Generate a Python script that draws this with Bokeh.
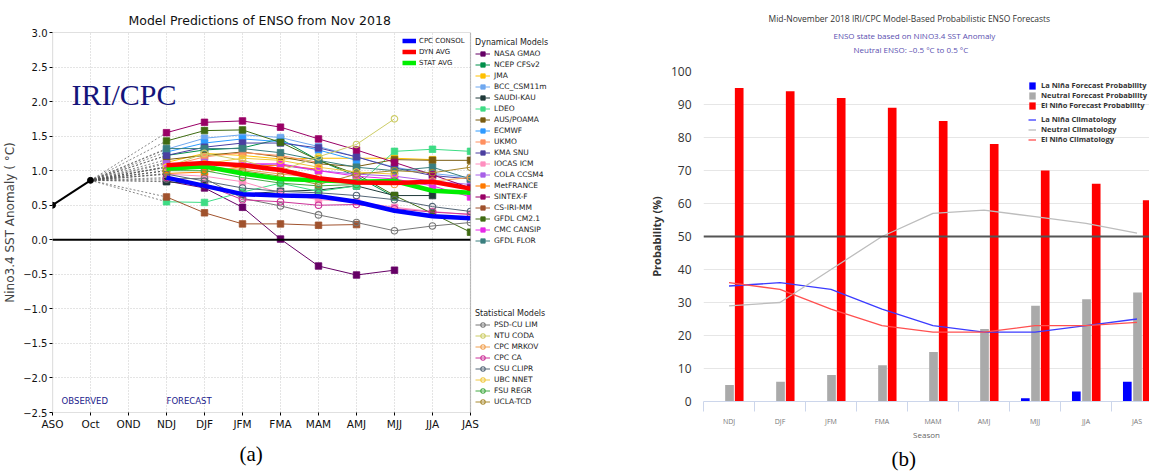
from bokeh.plotting import figure
from bokeh.models import (ColumnDataSource, Legend, LegendItem, FixedTicker, Title,
                          Label, Span, Range1d, BoxAnnotation)
from bokeh.layouts import row
from bokeh.embed import file_html
from bokeh.resources import INLINE
from bokeh.transform import dodge
import numpy as np

# ======================= Panel (a) data =======================
months = ["ASO", "Oct", "OND", "NDJ", "DJF", "JFM", "FMA", "MAM", "AMJ", "MJJ", "JJA", "JAS"]
observed_months = ["ASO", "Oct"]
observed_anomaly = [0.50, 0.86]
forecast_months = ["NDJ", "DJF", "JFM", "FMA", "MAM", "AMJ", "MJJ", "JJA", "JAS"]
y_ticks_a = [-2.5, -2.0, -1.5, -1.0, -0.5, 0.0, 0.5, 1.0, 1.5, 2.0, 2.5, 3.0]
y_tick_labels_a = ["\u22122.5", "\u22122.0", "\u22121.5", "\u22121.0", "\u22120.5", "0.0",
                   "0.5", "1.0", "1.5", "2.0", "2.5", "3.0"]

N = None
# Dynamical models
nasa_gmao = [0.85, 0.75, 0.47, 0.01, -0.38, -0.51, -0.44, N, N]
ncep_cfsv2 = [1.22, 1.30, 1.33, 1.46, 1.15, 0.92, 0.62, N, N]
jma = [1.12, 1.25, 1.22, 1.17, 1.18, 1.18, 1.18, 1.16, N]
bcc_csm11m = [1.31, 1.47, 1.52, 1.48, 1.35, 1.20, 1.05, 0.96, 0.90]
saudi_kau = [0.84, 0.80, 0.66, 0.70, 0.72, 0.78, 0.64, 0.64, N]
ldeo = [0.55, 0.54, 0.69, 0.82, 0.70, 0.78, 1.28, 1.31, 1.28]
aus_poama = [1.16, 1.22, 1.27, 1.20, 1.10, 1.06, 1.16, 1.15, 1.15]
ecmwf = [1.27, 1.40, 1.46, 1.42, 1.30, 1.15, N, N, N]
ukmo = [1.06, 1.20, 1.26, 1.22, 1.12, N, N, N, N]
kma_snu = [1.22, 1.34, 1.40, 1.40, 1.33, 1.20, 1.04, 0.93, 0.88]
iocas_icm = [0.95, 0.92, 0.84, 0.68, 0.58, 0.55, 0.47, 0.41, 0.36]
cola_ccsm4 = [1.10, 1.12, 1.10, 1.08, 1.00, 0.95, 0.92, 0.85, 0.80]
metfrance = [0.96, 0.98, 1.06, 1.08, 1.02, N, N, N, N]
sintex_f = [1.55, 1.70, 1.72, 1.63, 1.46, 1.30, 1.12, 0.94, 0.75]
cs_iri_mm = [0.62, 0.39, 0.23, 0.23, 0.21, 0.22, N, N, N]
gfdl_cm21 = [1.43, 1.58, 1.59, 1.41, 1.15, 0.95, 0.64, 0.38, 0.11]
cmc_cansip = [1.05, 1.08, 1.10, 1.10, 1.00, 0.92, 0.88, 0.78, 0.62]
gfdl_flor = [1.32, 1.32, 1.32, 1.26, 1.15, 1.05, 1.00, 1.05, 0.88]

# Statistical models
psd_cu_lim = [0.88, 0.89, 0.60, 0.49, 0.36, 0.25, 0.13, 0.20, 0.25]
ntu_coda = [1.05, 1.25, 1.15, 1.00, 1.20, 1.38, 1.75, N, N]
cpc_mrkov = [1.00, 1.05, 1.02, 0.95, 0.90, 0.85, 0.80, 0.85, 0.90]
cpc_ca = [0.90, 0.80, 0.58, 0.55, 0.50, 0.51, 0.45, 0.40, 0.37]
csu_clipr = [0.95, 0.85, 0.75, 0.70, 0.68, 0.64, 0.58, 0.48, 0.41]
ubc_nnet = [1.05, 1.10, 1.18, 1.15, 1.05, 0.98, 0.95, N, N]
fsu_regr = [1.00, 1.00, 0.90, 0.82, 0.78, 0.80, 0.85, N, N]
ucla_tcd = [1.00, 1.05, 1.00, 0.92, 0.80, 0.95, 1.00, 0.97, 1.05]

# Averages
cpc_consol = [0.90, 0.78, 0.66, 0.64, 0.63, 0.55, 0.42, 0.34, 0.31]
dyn_avg = [1.08, 1.11, 1.08, 1.01, 0.89, 0.83, 0.82, 0.84, 0.74]
stat_avg = [1.03, 1.06, 0.96, 0.88, 0.86, 0.84, 0.85, 0.71, 0.68]

dyn_models = [
    ("NASA GMAO", "#660066", nasa_gmao), ("NCEP CFSv2", "#00904a", ncep_cfsv2),
    ("JMA", "#ffc000", jma), ("BCC_CSM11m", "#6fa8f0", bcc_csm11m),
    ("SAUDI-KAU", "#203a3a", saudi_kau), ("LDEO", "#3ddc84", ldeo),
    ("AUS/POAMA", "#7a5c10", aus_poama), ("ECMWF", "#2e9bff", ecmwf),
    ("UKMO", "#ff9060", ukmo), ("KMA SNU", "#4b3fa0", kma_snu),
    ("IOCAS ICM", "#ff8fc0", iocas_icm), ("COLA CCSM4", "#a860e8", cola_ccsm4),
    ("MetFRANCE", "#ff7a00", metfrance), ("SINTEX-F", "#990066", sintex_f),
    ("CS-IRI-MM", "#a0522d", cs_iri_mm), ("GFDL CM2.1", "#3f6b12", gfdl_cm21),
    ("CMC CANSIP", "#e829e8", cmc_cansip), ("GFDL FLOR", "#3a7f7f", gfdl_flor),
]
stat_models = [
    ("PSD-CU LIM", "#777777", psd_cu_lim), ("NTU CODA", "#cccc66", ntu_coda),
    ("CPC MRKOV", "#f0a050", cpc_mrkov), ("CPC CA", "#cc3399", cpc_ca),
    ("CSU CLIPR", "#556677", csu_clipr), ("UBC NNET", "#f0c840", ubc_nnet),
    ("FSU REGR", "#44aa44", fsu_regr), ("UCLA-TCD", "#a88a30", ucla_tcd),
]
avg_models = [("CPC CONSOL", "#0000ff", cpc_consol), ("DYN AVG", "#ff0000", dyn_avg),
              ("STAT AVG", "#00ee00", stat_avg)]

# ======================= Panel (b) data =======================
seasons_b = ["NDJ", "DJF", "JFM", "FMA", "MAM", "AMJ", "MJJ", "JJA", "JAS"]
la_nina_prob = [0, 0, 0, 0, 0, 0, 1, 3, 6]
neutral_prob = [5, 6, 8, 11, 15, 22, 29, 31, 33]
el_nino_prob = [95, 94, 92, 89, 85, 78, 70, 66, 61]
la_nina_clim = [35, 36, 34, 28, 23, 21, 21, 23, 25]
neutral_clim = [29, 30, 40, 50, 57, 58, 56, 54, 51]
el_nino_clim = [36, 34, 28, 23, 21, 21, 23, 23, 24]
y_ticks_b = [0, 10, 20, 30, 40, 50, 60, 70, 80, 90, 100]

FONT = "DejaVu Sans"
W1, W2, H = 580, 569, 472

def nan_list(v):
    return [np.nan if a is None else a for a in v]

# ======================= Figure (a) =======================
xi = {m: i for i, m in enumerate(months)}
fx = [xi[m] for m in forecast_months]
x_last = len(months) - 1
# the frame continues to the right to hold the model legends (the plot box is 0..11)
p1 = figure(width=W1, height=H, output_backend="svg", toolbar_location=None, title=None,
            x_range=Range1d(0, x_last * 528 / 418), y_range=Range1d(y_ticks_a[0], y_ticks_a[-1]),
            min_border_left=52, min_border_right=0, min_border_top=32, min_border_bottom=59)
p1.frame_align = False
p1.outline_line_color = None
p1.background_fill_color = "white"

p1.xaxis.ticker = FixedTicker(ticks=list(range(len(months))))
p1.xaxis.major_label_overrides = {i: m for i, m in enumerate(months)}
p1.yaxis.ticker = FixedTicker(ticks=y_ticks_a)
p1.yaxis.major_label_overrides = dict(zip(y_ticks_a, y_tick_labels_a))
for ax in (p1.xaxis[0], p1.yaxis[0]):
    ax.major_label_text_font = FONT
    ax.major_label_text_font_size = "10px"
    ax.major_label_text_color = "#111111"
    ax.major_tick_out = 3
    ax.major_tick_in = 0
    ax.minor_tick_line_color = None
    ax.axis_line_color = None
    ax.major_label_standoff = 2
p1.xaxis.major_label_text_font_size = "10.5px"
p1.yaxis.axis_label = "Nino3.4 SST Anomaly ( \u00b0C)"
p1.yaxis.axis_label_text_font = FONT
p1.yaxis.axis_label_text_font_size = "12px"
p1.yaxis.axis_label_text_font_style = "normal"
p1.yaxis.axis_label_standoff = 3
p1.xgrid.grid_line_color = "#c8c8c8"
p1.xgrid.grid_line_dash = "1 2"
p1.ygrid.grid_line_color = "#c8c8c8"
p1.ygrid.grid_line_dash = "1 2"

p1.add_layout(Title(text="Model Predictions of ENSO from Nov 2018", align="left",
                    offset=76, text_font=FONT, text_font_size="12.5px", text_font_style="normal",
                    text_color="#111111", standoff=9), "above")
p1.add_layout(Title(text="(a)", align="left", offset=187, text_font="Liberation Serif",
                    text_font_size="21px", text_font_style="normal", text_color="black",
                    standoff=14), "below")

# zero line
p1.add_layout(Span(location=0, dimension="width", line_color="black", line_width=2))

oct_x = xi["Oct"]
oct_v = observed_anomaly[observed_months.index("Oct")]
for name, color, vals in dyn_models + stat_models:
    p1.line([oct_x, fx[0]], [oct_v, vals[0]], line_color="#555555", line_width=0.7,
            line_dash="2 2")

dyn_items = []
for name, color, vals in dyn_models:
    v = nan_list(vals)
    lr = p1.line(fx, v, line_color=color, line_width=1.0)
    sr = p1.scatter(fx, v, marker="square", size=6.5, fill_color=color,
                    line_color=color, line_width=0.8)
    dyn_items.append(LegendItem(label=name, renderers=[lr, sr]))

stat_items = []
for name, color, vals in stat_models:
    v = nan_list(vals)
    lr = p1.line(fx, v, line_color=color, line_width=1.0)
    sr = p1.scatter(fx, v, marker="circle", size=6.5, fill_color="white", fill_alpha=0.0,
                    line_color=color, line_width=1.1)
    stat_items.append(LegendItem(label=name, renderers=[lr, sr]))

avg_items = []
for name, color, vals in avg_models[::-1]:
    lr = p1.line(fx, vals, line_color=color, line_width=4.5)
    avg_items.append(LegendItem(label=name, renderers=[lr]))
avg_items = avg_items[::-1]

ox = [xi[m] for m in observed_months]
p1.line(ox, observed_anomaly, line_color="black", line_width=2)
p1.scatter(ox, observed_anomaly, marker="circle", size=6, fill_color="black", line_color="black")

# white legend area to the right of the plot box, and the plot box outline
p1.add_layout(BoxAnnotation(left=x_last, fill_color="white", fill_alpha=1.0, line_alpha=0))
p1.add_layout(BoxAnnotation(left=0, right=x_last, bottom=y_ticks_a[0], top=y_ticks_a[-1],
                            fill_alpha=0, line_color="#333333", line_width=1.2))

p1.add_layout(Label(x=0.5, y=2.1, text="IRI/CPC", text_font="Liberation Serif",
                    text_font_size="30px", text_color="#14147a", text_baseline="alphabetic"))
p1.add_layout(Label(x=0.24, y=-2.34, text="OBSERVED", text_font=FONT, text_font_size="8.5px",
                    text_color="#1a1a8c", text_baseline="middle"))
p1.add_layout(Label(x=3.0, y=-2.34, text="FORECAST", text_font=FONT, text_font_size="8.5px",
                    text_color="#1a1a8c", text_baseline="middle"))

def style_leg(lg, fs="7.5px", lh=11, gw=15, st=4):
    lg.label_text_font = FONT
    lg.label_text_font_size = fs
    lg.label_text_color = "#222222"
    lg.label_height = lh
    lg.glyph_height = lh
    lg.glyph_width = gw
    lg.spacing = 0
    lg.padding = 0
    lg.margin = 0
    lg.label_standoff = st
    lg.background_fill_alpha = 0
    lg.border_line_alpha = 0
    lg.title_text_font = FONT
    lg.title_text_font_size = "8px"
    lg.title_text_font_style = "normal"
    lg.title_text_color = "#222222"
    lg.title_standoff = 1

leg_avg = Legend(items=avg_items, location=(350, 344))
style_leg(leg_avg, fs="7px", lh=11, gw=14, st=3)
p1.add_layout(leg_avg)
leg_dyn = Legend(items=dyn_items, location=(423, 166), title="Dynamical Models")
style_leg(leg_dyn)
p1.add_layout(leg_dyn)
leg_stat = Legend(items=stat_items, location=(423, 5), title="Statistical Models")
style_leg(leg_stat)
p1.add_layout(leg_stat)

# ======================= Figure (b) =======================
xb = [i + 0.5 for i in range(len(seasons_b))]
src = ColumnDataSource(dict(x=xb, la=la_nina_prob, neu=neutral_prob, el=el_nino_prob,
                            lac=la_nina_clim, nec=neutral_clim, elc=el_nino_clim))

p2 = figure(width=W2, height=H, output_backend="svg", toolbar_location=None, title=None,
            x_range=Range1d(0, 446 / 51), y_range=Range1d(0, 100),
            min_border_left=123, min_border_right=0, min_border_top=71, min_border_bottom=69)
p2.frame_align = False
p2.outline_line_color = None
p2.xgrid.grid_line_color = None
p2.ygrid.ticker = FixedTicker(ticks=y_ticks_b)
p2.ygrid.grid_line_color = "#e6e6e6"
p2.ygrid.grid_line_width = 1

p2.add_layout(Span(location=50, dimension="width", line_color="#555555", line_width=2))

b_la = p2.vbar(x=dodge("x", -0.19), top="la", width=0.17, source=src,
               fill_color="#0000ff", line_color=None)
b_ne = p2.vbar(x=dodge("x", 0.01), top="neu", width=0.17, source=src,
               fill_color="#aaaaaa", line_color=None)
b_el = p2.vbar(x=dodge("x", 0.20), top="el", width=0.17, source=src,
               fill_color="#ff0000", line_color=None)

l_la = p2.line("x", "lac", source=src, line_color="#3b3bff", line_width=1.3)
l_ne = p2.line("x", "nec", source=src, line_color="#bdbdbd", line_width=1.3)
l_el = p2.line("x", "elc", source=src, line_color="#ff5050", line_width=1.3)

BFONT = "Open Sans"
xa = p2.xaxis[0]
xa.ticker = FixedTicker(ticks=xb, minor_ticks=list(range(len(seasons_b) + 1)))
xa.major_label_overrides = {x: s for x, s in zip(xb, seasons_b)}
xa.major_label_text_font = BFONT
xa.major_label_text_font_size = "7px"
xa.major_label_text_color = "#777777"
xa.major_tick_out = 0
xa.major_tick_in = 0
xa.minor_tick_out = 10
xa.minor_tick_in = 0
xa.minor_tick_line_color = "#ccd6eb"
xa.axis_line_color = "#ccd6eb"
xa.major_label_standoff = 5
xa.axis_label = "Season"
xa.axis_label_text_font = BFONT
xa.axis_label_text_font_size = "8px"
xa.axis_label_text_font_style = "normal"
xa.axis_label_text_color = "#666666"
xa.axis_label_standoff = 0

ya = p2.yaxis[0]
ya.ticker = FixedTicker(ticks=y_ticks_b)
ya.major_label_text_font = BFONT
ya.major_label_text_font_size = "12px"
ya.major_label_text_color = "#333333"
ya.major_tick_out = 0
ya.major_tick_in = 0
ya.minor_tick_line_color = None
ya.axis_line_color = None
ya.major_label_standoff = 12
ya.axis_label = "Probability (%)"
ya.axis_label_text_font = BFONT
ya.axis_label_text_font_size = "11px"
ya.axis_label_text_font_style = "bold"
ya.axis_label_text_color = "#333333"
ya.axis_label_standoff = 4

p2.add_layout(Title(text="(b)", align="left", offset=188, text_font="Liberation Serif",
                    text_font_size="21px", text_font_style="normal", text_color="black",
                    standoff=4), "below")
# spacer between the frame and the subtitle lines
p2.add_layout(Title(text=" ", align="left", text_font=BFONT, text_font_size="8px",
                    standoff=4), "above")
p2.add_layout(Title(text="Neutral ENSO: \u20130.5 \u00b0C to 0.5 \u00b0C", align="left",
                    offset=150, text_font=BFONT, text_font_size="8px",
                    text_font_style="normal", text_color="#5a4fb0", standoff=0), "above")
p2.add_layout(Title(text="ENSO state based on NINO3.4 SST Anomaly", align="left",
                    offset=130, text_font=BFONT, text_font_size="8px",
                    text_font_style="normal", text_color="#5a4fb0", standoff=2), "above")
p2.add_layout(Title(text="Mid-November 2018 IRI/CPC Model-Based Probabilistic ENSO Forecasts",
                    align="left", offset=65, text_font=BFONT, text_font_size="8.5px",
                    text_font_style="normal", text_color="#333333", standoff=5), "above")

def style_leg_b(lg):
    lg.label_text_font = BFONT
    lg.label_text_font_size = "7.5px"
    lg.label_text_font_style = "bold"
    lg.label_text_color = "#333333"
    lg.label_height = 9
    lg.glyph_height = 9
    lg.glyph_width = 8
    lg.spacing = 0
    lg.padding = 0
    lg.margin = 0
    lg.label_standoff = 5
    lg.background_fill_alpha = 0
    lg.border_line_alpha = 0

leg_bars = Legend(items=[LegendItem(label="La Ni\u00f1a Forecast Probability", renderers=[b_la]),
                         LegendItem(label="Neutral Forecast Probability", renderers=[b_ne]),
                         LegendItem(label="El Ni\u00f1o Forecast Probability", renderers=[b_el])],
                  location=(325, 291))
style_leg_b(leg_bars)
p2.add_layout(leg_bars)
leg_lines = Legend(items=[LegendItem(label="La Ni\u00f1a Climatology", renderers=[l_la]),
                          LegendItem(label="Neutral Climatology", renderers=[l_ne]),
                          LegendItem(label="El Ni\u00f1o Climatology", renderers=[l_el])],
                   location=(325, 257))
style_leg_b(leg_lines)
p2.add_layout(leg_lines)

layout = row(p1, p2, spacing=0)
open("out.html", "w").write(file_html(layout, INLINE))
